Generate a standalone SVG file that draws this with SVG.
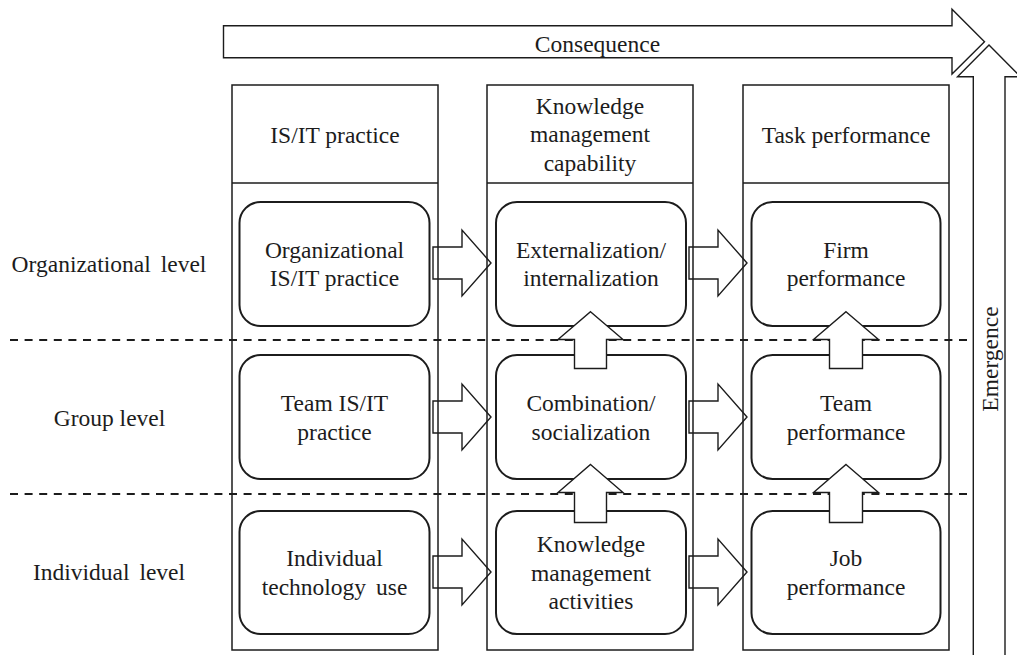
<svg xmlns="http://www.w3.org/2000/svg" width="1017" height="655" viewBox="0 0 1017 655">
  <style>
    text { font-family: "Liberation Serif", "Times New Roman", serif; font-size: 23.5px; fill: #1c1c1c; text-anchor: middle; }
    .wide { word-spacing: 4px; }
    .col { fill: none; stroke: #1c1c1c; stroke-width: 1.5; }
    .box { fill: #ffffff; stroke: #1c1c1c; stroke-width: 2; }
    .blk { fill: #ffffff; stroke: #1c1c1c; stroke-width: 1.4; stroke-linejoin: miter; }
    .dash { stroke: #1c1c1c; stroke-width: 2; stroke-dasharray: 8 6.6; fill: none; }
  </style>

  <!-- big axis arrows -->
  <g id="consequence">
    <path class="blk" d="M223.5,25.7 H952 V9.3 L984.5,41.7 L952,74 V57.7 H223.5 Z"/>
    <text x="597.5" y="51.5">Consequence</text>
  </g>
  <g id="emergence">
    <path class="blk" d="M973.3,700 V76.7 H957.5 L989,45 L1020.5,76.7 H1005 V700"/>
    <text transform="translate(998,359) rotate(-90)">Emergence</text>
  </g>

  <!-- horizontal arrows between columns (drawn under column outlines) -->
  <g id="connectors">
    <path class="blk" d="M433,247 H462 V230 L491,263 L462,296 V279 H433 Z"/>
    <path class="blk" d="M433,401 H462 V384 L491,417 L462,450 V433 H433 Z"/>
    <path class="blk" d="M433,556 H462 V539 L491,572 L462,605 V588 H433 Z"/>
    <path class="blk" d="M689,247 H718 V230 L747,263 L718,296 V279 H689 Z"/>
    <path class="blk" d="M689,401 H718 V384 L747,417 L718,450 V433 H689 Z"/>
    <path class="blk" d="M689,556 H718 V539 L747,572 L718,605 V588 H689 Z"/>
  </g>

  <!-- level separators -->
  <g id="levels">
    <line class="dash" x1="10" y1="340" x2="968" y2="340"/>
    <line class="dash" x1="10" y1="494" x2="968" y2="494"/>
    <text class="wide" x="109" y="271.5">Organizational level</text>
    <text x="109.5" y="425.5">Group level</text>
    <text class="wide" x="109" y="580">Individual level</text>
  </g>

  <!-- columns -->
  <g id="col-isit">
    <rect class="col" x="232" y="85" width="206" height="565"/>
    <line class="col" x1="232" y1="183" x2="438" y2="183"/>
    <text x="335" y="143.3">IS/IT practice</text>
  </g>
  <g id="col-km">
    <rect class="col" x="487" y="85" width="206" height="565"/>
    <line class="col" x1="487" y1="183" x2="693" y2="183"/>
    <text x="590" y="113.5">Knowledge</text>
    <text x="590" y="142">management</text>
    <text x="590" y="170.5">capability</text>
  </g>
  <g id="col-task">
    <rect class="col" x="743" y="85" width="206" height="565"/>
    <line class="col" x1="743" y1="183" x2="949" y2="183"/>
    <text x="846" y="143.3">Task performance</text>
  </g>

  <!-- column 1 nodes -->
  <g id="org-isit">
    <rect class="box" x="239.5" y="202" width="190" height="124" rx="21"/>
    <text x="334.5" y="257.5">Organizational</text>
    <text x="334.5" y="286">IS/IT practice</text>
  </g>
  <g id="team-isit">
    <rect class="box" x="239.5" y="355" width="190" height="124" rx="21"/>
    <text x="334.5" y="411">Team IS/IT</text>
    <text x="334.5" y="439.5">practice</text>
  </g>
  <g id="indiv-tech">
    <rect class="box" x="239.5" y="511" width="190" height="123" rx="21"/>
    <text x="334.5" y="566">Individual</text>
    <text class="wide" x="334.5" y="594.5">technology use</text>
  </g>

  <!-- column 2 nodes -->
  <g id="ext-int">
    <rect class="box" x="496" y="202" width="190" height="124" rx="21"/>
    <text x="591" y="257.5">Externalization/</text>
    <text x="591" y="286">internalization</text>
  </g>
  <g id="comb-soc">
    <rect class="box" x="496" y="355" width="190" height="124" rx="21"/>
    <text x="591" y="411">Combination/</text>
    <text x="591" y="439.5">socialization</text>
  </g>
  <g id="km-act">
    <rect class="box" x="496" y="511" width="190" height="123" rx="21"/>
    <text x="591" y="552">Knowledge</text>
    <text x="591" y="580.5">management</text>
    <text x="591" y="609">activities</text>
  </g>

  <!-- column 3 nodes -->
  <g id="firm-perf">
    <rect class="box" x="751.5" y="202" width="189" height="124" rx="21"/>
    <text x="846" y="257.5">Firm</text>
    <text x="846" y="286">performance</text>
  </g>
  <g id="team-perf">
    <rect class="box" x="751.5" y="355" width="189" height="124" rx="21"/>
    <text x="846" y="411">Team</text>
    <text x="846" y="439.5">performance</text>
  </g>
  <g id="job-perf">
    <rect class="box" x="751.5" y="511" width="189" height="123" rx="21"/>
    <text x="846" y="566">Job</text>
    <text x="846" y="594.5">performance</text>
  </g>

  <!-- upward arrows between levels -->
  <g id="up-connectors">
    <path class="blk" d="M590.5,311.7 L623,339.5 H606.5 V368.5 H574.5 V339.5 H558 Z"/>
    <path class="blk" d="M590.5,464.5 L623,492.5 H606.5 V522.5 H574.5 V492.5 H558 Z"/>
    <path class="blk" d="M846,311.7 L878.5,339.5 H862.5 V368.5 H829.5 V339.5 H813.5 Z"/>
    <path class="blk" d="M846,464.5 L878.5,492.5 H862.5 V522.5 H829.5 V492.5 H813.5 Z"/>
  </g>
</svg>
